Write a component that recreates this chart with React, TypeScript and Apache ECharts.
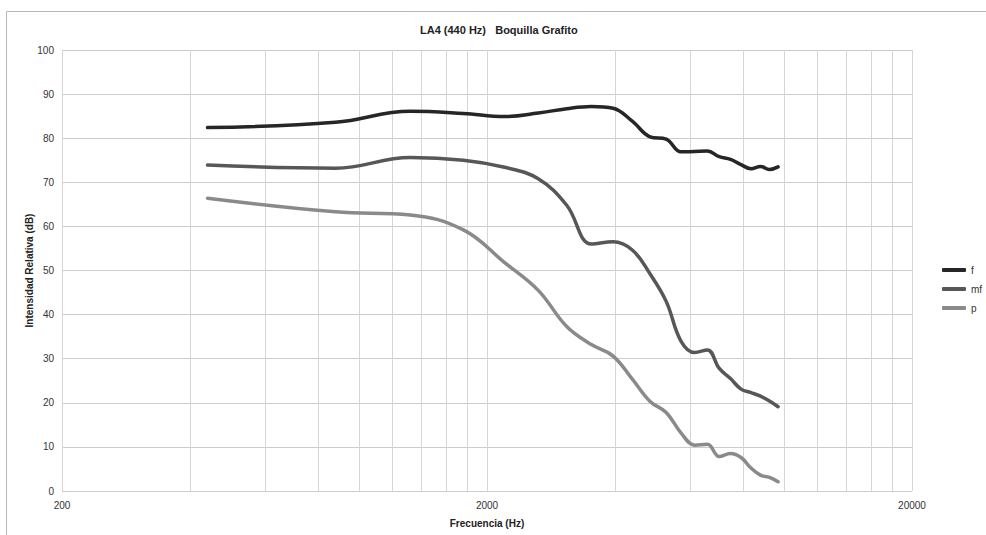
import React, { useEffect, useRef } from "react";
import * as echarts from "echarts";

// Harmonic frequencies of LA4 (Hz)
const frequencies = [
  440, 880, 1320, 1760, 2200, 2640, 3080, 3520, 3960, 4400, 4840,
  5280, 5720, 6160, 6600, 7040, 7480, 7920, 8360, 8800, 9240, 9680,
];

// Relative intensity (dB) per dynamic level
const fValues = [
  82.4, 83.6, 86.1, 85.6, 84.9, 85.7, 86.7, 87.2, 86.8, 83.8, 80.3,
  79.8, 76.9, 77.0, 77.1, 75.8, 75.2, 74.0, 73.1, 73.6, 72.9, 73.5,
];
const mfValues = [
  73.9, 73.2, 75.6, 75.0, 73.4, 70.8, 64.8, 56.0, 56.5, 54.6, 49.2,
  43.0, 34.0, 31.4, 32.0, 27.8, 25.5, 23.1, 22.3, 21.5, 20.4, 19.1,
];
const pValues = [
  66.4, 63.3, 62.6, 59.2, 51.8, 45.5, 37.3, 33.2, 30.6, 25.3, 20.3,
  17.8, 13.2, 10.4, 10.6, 7.8, 8.5, 7.6, 5.2, 3.6, 3.1, 2.1,
];

const seriesNames = ["f", "mf", "p"];
const seriesColors = ["#262626", "#575757", "#8a8a8a"];

// Vertical grid lines and labelled frequencies on the log axis
const gridFrequencies = [
  200, 400, 600, 800, 1000, 1200, 1400, 1600, 1800, 2000,
  4000, 6000, 8000, 10000, 12000, 14000, 16000, 18000, 20000,
];
const labelFrequencies = [200, 2000, 20000];

const FONT = "'Liberation Sans', Arial, Helvetica, sans-serif";

export default function App() {
  const ref = useRef<HTMLDivElement>(null);

  useEffect(() => {
    if (!ref.current) return;
    const chart = echarts.init(ref.current, undefined, { renderer: "svg" });

    const valueSets = [fValues, mfValues, pValues];
    const series = seriesNames.map((name, i) => ({
      name,
      type: "line",
      data: frequencies.map((f, j) => [f, valueSets[i][j]]),
      smooth: 0.4,
      showSymbol: false,
      symbol: "none",
      color: seriesColors[i],
      lineStyle: { width: 3.5, color: seriesColors[i], cap: "round" },
      z: 10 - i,
    }));

    chart.setOption({
      animation: false,
      backgroundColor: "#ffffff",
      textStyle: { fontFamily: FONT },
      title: {
        text: "LA4 (440 Hz)   Boquilla Grafito",
        left: 420,
        top: 24,
        padding: 0,
        textStyle: { fontFamily: FONT, fontSize: 11, fontWeight: "bold", color: "#222" },
      },
      graphic: [
        {
          type: "rect",
          z: -1,
          silent: true,
          shape: { x: 6.5, y: 11.5, width: 1200, height: 800 },
          style: { fill: "none", stroke: "#b8b8b8", lineWidth: 1 },
        },
      ],
      legend: {
        orient: "vertical",
        left: 942,
        top: 264,
        padding: 0,
        itemWidth: 24,
        itemHeight: 4,
        itemGap: 7,
        icon: "roundRect",
        data: seriesNames,
        textStyle: { fontFamily: FONT, fontSize: 10, color: "#333", lineHeight: 12 },
      },
      grid: { left: 62, right: 74, top: 50, bottom: 44, containLabel: false },
      xAxis: {
        type: "log",
        logBase: 10,
        min: 200,
        max: 20000,
        name: "Frecuencia (Hz)",
        nameLocation: "middle",
        nameGap: 27,
        nameMoveOverlap: false,
        nameTextStyle: { fontFamily: FONT, fontSize: 10, fontWeight: "bold", color: "#222" },
        axisLine: { show: false },
        axisTick: { show: false, customValues: gridFrequencies },
        axisLabel: {
          customValues: labelFrequencies,
          formatter: (v: number) => String(Math.round(v)),
          margin: 9,
          fontSize: 10,
          color: "#333",
          fontFamily: FONT,
        },
        splitLine: { show: true, lineStyle: { color: "#d6d6d6", width: 1 } },
      },
      yAxis: {
        type: "value",
        min: 0,
        max: 100,
        interval: 10,
        name: "Intensidad Relativa (dB)",
        nameLocation: "middle",
        nameGap: 28,
        nameMoveOverlap: false,
        nameTextStyle: { fontFamily: FONT, fontSize: 10, fontWeight: "bold", color: "#222" },
        axisLine: { show: false },
        axisTick: { show: false },
        axisLabel: { margin: 8, fontSize: 10, color: "#333", fontFamily: FONT },
        splitLine: { show: true, lineStyle: { color: "#cccccc", width: 1 } },
      },
      series,
    });

    return () => chart.dispose();
  }, []);

  return (
    <div
      ref={ref}
      style={{ position: "absolute", left: 0, top: 0, width: 986, height: 535 }}
    />
  );
}
